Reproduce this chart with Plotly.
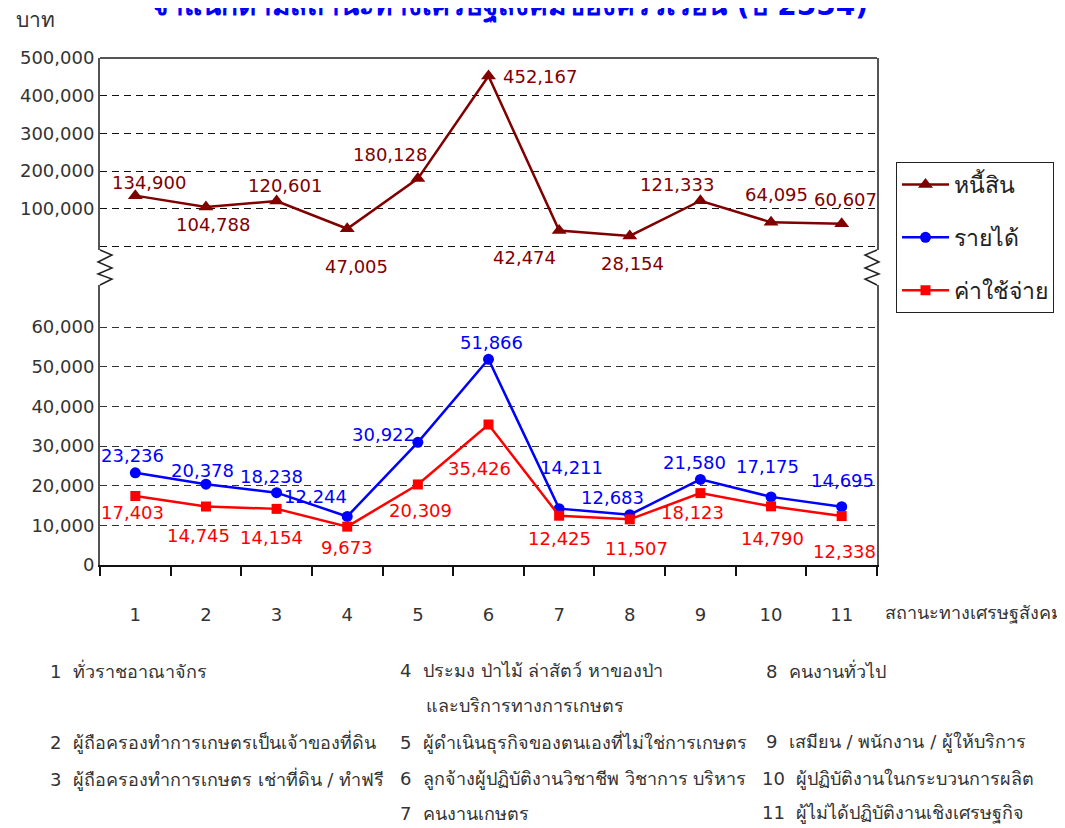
import plotly.graph_objects as go

# ---- data ----
categories = ["1", "2", "3", "4", "5", "6", "7", "8", "9", "10", "11"]
debt = [134900, 104788, 120601, 47005, 180128, 452167, 42474, 28154, 121333, 64095, 60607]
income = [23236, 20378, 18238, 12244, 30922, 51866, 14211, 12683, 21580, 17175, 14695]
expense = [17403, 14745, 14154, 9673, 20309, 35426, 12425, 11507, 18123, 14790, 12338]

upper_ticks = [0, 100000, 200000, 300000, 400000, 500000]
lower_ticks = [0, 10000, 20000, 30000, 40000, 50000, 60000]

category_names = [
    "ทั่วราชอาณาจักร",
    "ผู้ถือครองทำการเกษตรเป็นเจ้าของที่ดิน",
    "ผู้ถือครองทำการเกษตร เช่าที่ดิน / ทำฟรี",
    "ประมง ป่าไม้ ล่าสัตว์ หาของป่า\nและบริการทางการเกษตร",
    "ผู้ดำเนินธุรกิจของตนเองที่ไม่ใช่การเกษตร",
    "ลูกจ้างผู้ปฏิบัติงานวิชาชีพ วิชาการ บริหาร",
    "คนงานเกษตร",
    "คนงานทั่วไป",
    "เสมียน / พนักงาน / ผู้ให้บริการ",
    "ผู้ปฏิบัติงานในกระบวนการผลิต",
    "ผู้ไม่ได้ปฏิบัติงานเชิงเศรษฐกิจ",
]

title = "จำแนกตามสถานะทางเศรษฐสังคมของครัวเรือน (ปี 2554)"
unit = "บาท"
x_title = "สถานะทางเศรษฐสังคม"
names = ["หนี้สิน", "รายได้", "ค่าใช้จ่าย"]

# ---- styling ----
FONT = "Tahoma, 'DejaVu Sans', 'Noto Sans', sans-serif"
C_DEBT, C_INC, C_EXP = "#800000", "#0000FF", "#FF0000"
FRAME = "#555555"

W, H = 1065, 828
PAGE = 8  # body margin of the html page
# plot area as seen on screen
L, R, T, B = 100, 877, 58, 565


def px(x):
    return (x - L) / (R - L)


def py(y):
    return (B - y) / (B - T)


# label offsets (xshift, yshift) in pixels
debt_off = [(14, 13), (7, -18), (8, 16), (9, -38), (-28, 24), (51, 0),
            (-35, -27), (3, -28), (-23, 16), (5, 28), (4, 24)]
inc_off = [(-3, 17), (-3, 14), (-5, 16), (-32, 20), (-34, 8), (3, 17),
           (12, 41), (-17, 17), (-6, 17), (-4, 30), (1, 26)]
exp_off = [(-3, -17), (-7, -29), (-5, -29), (0, -21), (3, -26), (-9, -44),
           (0, -23), (7, -29), (-8, -19), (1, -32), (3, -35)]

fig = go.Figure()

fig.add_trace(go.Scatter(
    x=categories, y=debt, yaxis="y2", name=names[0], legendgroup="a",
    mode="lines+markers", line=dict(color=C_DEBT, width=2.5),
    marker=dict(symbol="triangle-up", size=13, color=C_DEBT),
))
fig.add_trace(go.Scatter(
    x=categories, y=income, name=names[1], legendgroup="b",
    mode="lines+markers", line=dict(color=C_INC, width=2.5),
    marker=dict(symbol="circle", size=11, color=C_INC),
))
fig.add_trace(go.Scatter(
    x=categories, y=expense, name=names[2], legendgroup="c",
    mode="lines+markers", line=dict(color=C_EXP, width=2.5),
    marker=dict(symbol="square", size=10, color=C_EXP),
))

annotations = []
for vals, offs, color, yref in [(debt, debt_off, C_DEBT, "y2"),
                                (income, inc_off, C_INC, "y"),
                                (expense, exp_off, C_EXP, "y")]:
    for i, (v, (dx, dy)) in enumerate(zip(vals, offs)):
        annotations.append(dict(
            x=i, y=v, xref="x", yref=yref, text=f"{v:,}", showarrow=False,
            xshift=dx, yshift=dy, font=dict(size=18, color=color, family=FONT),
        ))

# title (partly off the top of the page), unit, x title
annotations.append(dict(x=px(510), y=py(7), xref="paper", yref="paper", text=f"<b>{title}</b>",
                        showarrow=False, xanchor="center", yanchor="middle",
                        font=dict(size=28, color="#0000FF", family=FONT)))
annotations.append(dict(x=px(14), y=py(20), xref="paper", yref="paper", text=unit,
                        showarrow=False, xanchor="left", yanchor="middle",
                        font=dict(size=21, color="#333333", family=FONT)))
annotations.append(dict(x=px(883), y=py(613), xref="paper", yref="paper", text=x_title,
                        showarrow=False, xanchor="left", yanchor="middle",
                        font=dict(size=18, color="#333333", family=FONT)))

# footnote legend of the categories
foot_pos = [(48, 670), (48, 742), (48, 779), (398, 670), (398, 742), (398, 779),
            (398, 813), (764, 670), (764, 742), (760, 779), (760, 813)]
for i, (name, (fx, fy)) in enumerate(zip(category_names, foot_pos)):
    lines = name.split("\n")
    annotations.append(dict(x=px(fx), y=py(fy), xref="paper", yref="paper",
                            text=f"{categories[i]}&nbsp;&nbsp;{lines[0]}", showarrow=False,
                            xanchor="left", yanchor="middle",
                            font=dict(size=18, color="#333333", family=FONT)))
    for k, extra in enumerate(lines[1:], start=1):
        annotations.append(dict(x=px(fx + 26), y=py(fy + 36 * k), xref="paper", yref="paper",
                                text=extra, showarrow=False, xanchor="left", yanchor="middle",
                                font=dict(size=18, color="#333333", family=FONT)))


def zigzag(x0, dx):
    ys = [250, 255, 262, 268, 274, 279, 285]
    xs = [x0, x0 + dx, x0 - 2 * dx / 12, x0 + dx, x0 - 2 * dx / 12, x0 + dx, x0]
    return "M " + " L ".join(f"{px(a)},{py(b)}" for a, b in zip(xs, ys))


shapes = [
    dict(type="line", xref="paper", yref="paper", x0=0, x1=1, y0=1, y1=1,
         line=dict(color=FRAME, width=2)),
    dict(type="path", xref="paper", yref="paper", path=zigzag(L, 12),
         line=dict(color="#222222", width=1.5)),
    dict(type="path", xref="paper", yref="paper", path=zigzag(R, -12),
         line=dict(color="#222222", width=1.5)),
]

fig.update_layout(
    width=W, height=H,
    margin=dict(l=L - PAGE, r=W - R + PAGE, t=T - PAGE, b=H - B + PAGE),
    paper_bgcolor="white", plot_bgcolor="white",
    font=dict(family=FONT, size=18, color="#333333"),
    showlegend=True,
    legend=dict(x=px(896), y=py(162), xanchor="left", yanchor="top",
                bordercolor="#222222", borderwidth=1, bgcolor="white",
                font=dict(size=23, color="#222222", family=FONT),
                itemwidth=47, tracegroupgap=20, traceorder="grouped"),
    xaxis=dict(
        type="category", range=[-0.5, 10.5], showline=True, linecolor="#111111", linewidth=1.5,
        ticks="outside", tickson="boundaries", ticklen=9, tickwidth=1.5, tickcolor="#111111",
        showgrid=False, ticklabelstandoff=33, tickfont=dict(size=18, color="#333333"),
        anchor="y",
    ),
    yaxis=dict(
        domain=[0, py(285)], range=[0, 70600], tickvals=lower_ticks,
        ticktext=[f"{v:,}" for v in lower_ticks],
        showline=True, mirror=True, linecolor=FRAME, linewidth=2,
        showgrid=True, gridcolor="#333333", griddash="7px,5px", gridwidth=1,
        zeroline=False, ticks="", tickfont=dict(size=18, color="#333333"),
    ),
    yaxis2=dict(
        domain=[py(250), 1], range=[-9300, 500000], tickvals=upper_ticks,
        ticktext=["" if v == 0 else f"{v:,}" for v in upper_ticks],
        showline=True, mirror=True, linecolor=FRAME, linewidth=2,
        showgrid=True, gridcolor="#111111", griddash="7px,5px", gridwidth=1,
        zeroline=False, ticks="", anchor="x", tickfont=dict(size=18, color="#333333"),
    ),
    annotations=annotations,
    shapes=shapes,
)

fig.write_html("out.html")
